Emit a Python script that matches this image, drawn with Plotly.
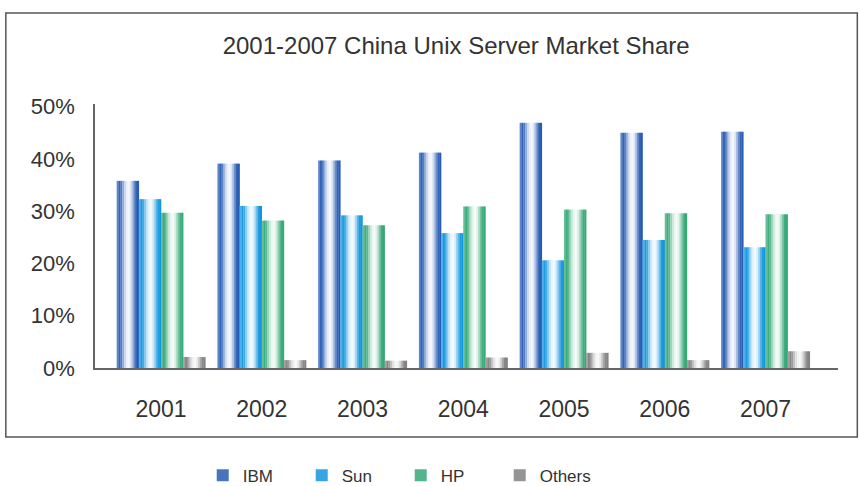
import plotly.graph_objects as go

# ---- data ----
years = ["2001", "2002", "2003", "2004", "2005", "2006", "2007"]
ibm = [35.8, 39.1, 39.7, 41.2, 46.9, 45.0, 45.2]
sun = [32.3, 31.0, 29.2, 25.8, 20.6, 24.5, 23.1]
hp = [29.7, 28.2, 27.3, 30.9, 30.3, 29.6, 29.4]
others = [2.1, 1.5, 1.4, 2.0, 2.9, 1.5, 3.2]
series_names = ["IBM", "Sun", "HP", "Others"]
series_values = [ibm, sun, hp, others]
y_ticks = [0, 10, 20, 30, 40, 50]
y_tick_labels = ["0%", "10%", "20%", "30%", "40%", "50%"]

# ---- style ----
base_colors = [(40, 92, 180), (18, 150, 222), (52, 168, 118), (130, 130, 130)]
# white-blend profile across a bar (left -> right) to imitate a cylinder
profile = [0.25, 0.05, 0.2, 0.5, 0.75, 0.9, 0.95, 0.85, 0.6, 0.3, 0.05, 0.0]
n_strips = len(profile)
bar_w = 0.22
group_start = -0.44


def blend(c, t):
    return "rgb(%d,%d,%d)" % tuple(round(ch + (255 - ch) * t) for ch in c)


fig = go.Figure()
for k, (name, vals) in enumerate(zip(series_names, series_values)):
    sw = bar_w / n_strips
    for j, t in enumerate(profile):
        fig.add_trace(go.Bar(
            x=years, y=vals,
            width=sw * 1.15, offset=group_start + k * bar_w + j * sw,
            marker=dict(color=blend(base_colors[k], t), line=dict(width=0)),
            name=name, legendgroup=name, showlegend=False,
            hovertemplate=name + " %{x}: %{y}%<extra></extra>",
        ))
    # legend entry
    fig.add_trace(go.Bar(
        x=[None], y=[None], name=name, legendgroup=name,
        marker=dict(color=blend(base_colors[k], 0.15), line=dict(width=0)),
        showlegend=True,
    ))

font_family = "Liberation Sans, Arial, sans-serif"
fig.update_layout(
    width=859, height=486,
    margin=dict(l=95, r=21, t=104, b=118),
    paper_bgcolor="white", plot_bgcolor="white",
    barmode="overlay",
    font=dict(family=font_family, color="#333333"),
    title=dict(text="2001-2007 China Unix Server Market Share",
               x=0.531, xanchor="center", y=0.907, yanchor="middle",
               xref="container", yref="container",
               font=dict(size=24, color="#333333", family=font_family)),
    xaxis=dict(type="category", range=[-0.655, 6.72], showline=True,
               linecolor="#666666", linewidth=1.5, ticks="",
               ticklabelstandoff=20, tickfont=dict(size=23, color="#333333"),
               showgrid=False, zeroline=False, fixedrange=True),
    yaxis=dict(range=[0, 50.5], tickvals=y_ticks, ticktext=y_tick_labels,
               showline=True, linecolor="#666666", linewidth=1.5, ticks="",
               ticklabelstandoff=14, tickfont=dict(size=22, color="#333333"),
               showgrid=False, zeroline=False),
    legend=dict(orientation="h", xref="container", yref="container",
                x=0.236, xanchor="left", y=0.021, yanchor="middle",
                font=dict(size=17, color="#333333"),
                itemwidth=30, entrywidth=54, entrywidthmode="pixels",
                traceorder="normal"),
    shapes=[dict(type="rect", xref="paper", yref="paper",
                 x0=-0.12, x1=1.026, y0=-0.261, y1=1.345,
                 line=dict(color="#555555", width=1.5), layer="below")],
    showlegend=True,
)

fig.write_html("out.html")
